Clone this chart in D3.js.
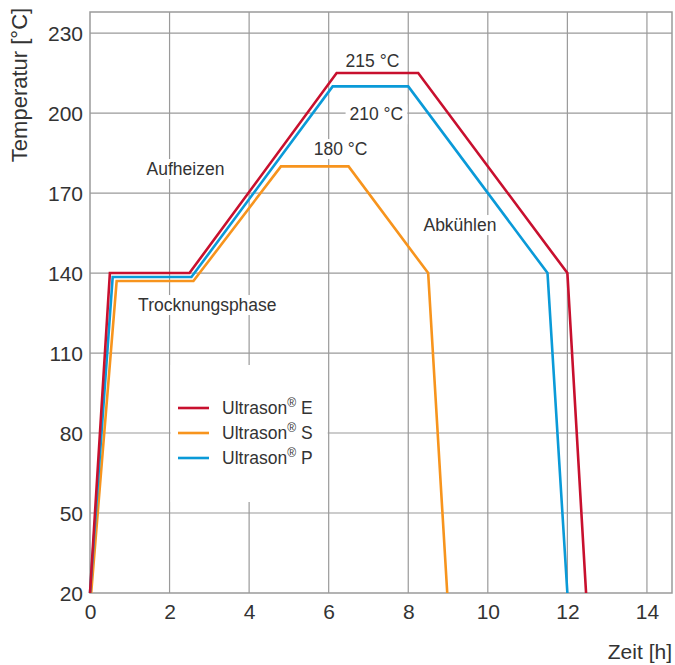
<!DOCTYPE html>
<html><head><meta charset="utf-8">
<script src="https://cdn.jsdelivr.net/npm/d3@7/dist/d3.min.js"></script>
<style>body{margin:0;background:#fff}svg{display:block}text{font-family:"Liberation Sans","Helvetica",Arial,sans-serif;fill:#333}</style>
</head><body>
<svg id="c" width="675" height="665"></svg>
<script>
const xTicks = [0, 2, 4, 6, 8, 10, 12, 14];
const yTicks = [20, 50, 80, 110, 140, 170, 200, 230];
const seriesNames = ["Ultrason® E", "Ultrason® S", "Ultrason® P"];
const seriesColors = ["#c8102e", "#f7941d", "#0a9ad8"];
const timeE = [0, 0.5, 2.5, 6.2, 8.25, 12, 12.47];
const tempE = [20, 140, 140, 215, 215, 140, 20];
const timeS = [0.03, 0.67, 2.6, 4.8, 6.5, 8.5, 8.98];
const tempS = [20, 137, 137, 180, 180, 140, 20];
const timeP = [0, 0.57, 2.55, 6.1, 8.0, 11.5, 12.0];
const tempP = [20, 138.5, 138.5, 210, 210, 140, 20];
const annotations = [
  {text: "215 °C", x: 7.1, y: 219.5},
  {text: "210 °C", x: 7.2, y: 199.5},
  {text: "180 °C", x: 6.3, y: 186.5},
  {text: "Aufheizen", x: 2.4, y: 179},
  {text: "Trocknungsphase", x: 2.95, y: 128},
  {text: "Abkühlen", x: 9.3, y: 158}
];

const svg = d3.select("#c");
const L = 90, R = 672, T = 12, B = 593;
const x = d3.scaleLinear().domain([0, 14.63]).range([L, R]);
const y = d3.scaleLinear().domain([20, 237.9]).range([B, T]);
const grid = "#9a9a9a";

// grid
svg.append("g").selectAll("line").data(xTicks.filter(d => d > 0)).join("line")
  .attr("x1", d => x(d)).attr("x2", d => x(d)).attr("y1", T).attr("y2", B)
  .attr("stroke", grid).attr("stroke-width", 1.2);
svg.append("g").selectAll("line").data(yTicks.filter(d => d > 20)).join("line")
  .attr("x1", L).attr("x2", R).attr("y1", d => y(d)).attr("y2", d => y(d))
  .attr("stroke", grid).attr("stroke-width", 1.2);

// legend white box (hides grid)
svg.append("rect").attr("x", x(2) + 1).attr("y", 365).attr("width", x(6) - x(2) - 2).attr("height", 137).attr("fill", "#fff");

// frame
svg.append("rect").attr("x", L).attr("y", T).attr("width", R - L).attr("height", B - T)
  .attr("fill", "none").attr("stroke", grid).attr("stroke-width", 1.5);

// annotations with white background
const annG = svg.append("g");
annotations.forEach(a => {
  const g = annG.append("g");
  const t = g.append("text").attr("x", x(a.x)).attr("y", y(a.y)).attr("text-anchor", "middle")
    .attr("dominant-baseline", "central").style("font-size", "17.5px").text(a.text);
  const bb = t.node().getBBox();
  g.insert("rect", "text").attr("x", bb.x - 4).attr("y", bb.y).attr("width", bb.width + 8).attr("height", bb.height).attr("fill", "#fff");
});

// lines
const data = [[timeE, tempE], [timeS, tempS], [timeP, tempP]];
const line = d3.line().x(d => x(d[0])).y(d => y(d[1]));
const order = [1, 2, 0];
order.forEach(i => {
  const pts = data[i][0].map((t, k) => [t, data[i][1][k]]);
  svg.append("path").datum(pts).attr("d", line).attr("fill", "none")
    .attr("stroke", seriesColors[i]).attr("stroke-width", 2.6).attr("stroke-linejoin", "miter");
});

// axes labels
const xAxis = d3.axisBottom(x).tickValues(xTicks).tickSize(0).tickPadding(11);
const gx = svg.append("g").attr("transform", `translate(0,${B})`).call(xAxis);
gx.select(".domain").remove();
gx.selectAll("text").style("font-size", "21px").style("fill", "#333").attr("font-family", "Liberation Sans");
const yAxis = d3.axisLeft(y).tickValues(yTicks).tickSize(0).tickPadding(7);
const gy = svg.append("g").attr("transform", `translate(${L},0)`).call(yAxis);
gy.select(".domain").remove();
gy.selectAll("text").style("font-size", "21px").style("fill", "#333").attr("dy", "0.36em").attr("font-family", "Liberation Sans");

svg.append("text").attr("x", R).attr("y", 659).attr("text-anchor", "end").style("font-size", "21px").text("Zeit [h]");
svg.append("text").attr("transform", "translate(27,85) rotate(-90)").attr("text-anchor", "middle").style("font-size", "22px").text("Temperatur [°C]");

// legend
seriesNames.forEach((n, i) => {
  const ly = 408 + i * 25;
  svg.append("line").attr("x1", 178).attr("x2", 209).attr("y1", ly).attr("y2", ly).attr("stroke", seriesColors[i]).attr("stroke-width", 2.6);
  const t = svg.append("text").attr("x", 222).attr("y", ly).attr("dominant-baseline", "central").style("font-size", "17.5px");
  const parts = n.split("®");
  t.append("tspan").text(parts[0]);
  t.append("tspan").text("®").style("font-size", "12px").attr("dy", "-5");
  t.append("tspan").text(parts[1]).attr("dy", "5");
});
</script>
</body></html>
